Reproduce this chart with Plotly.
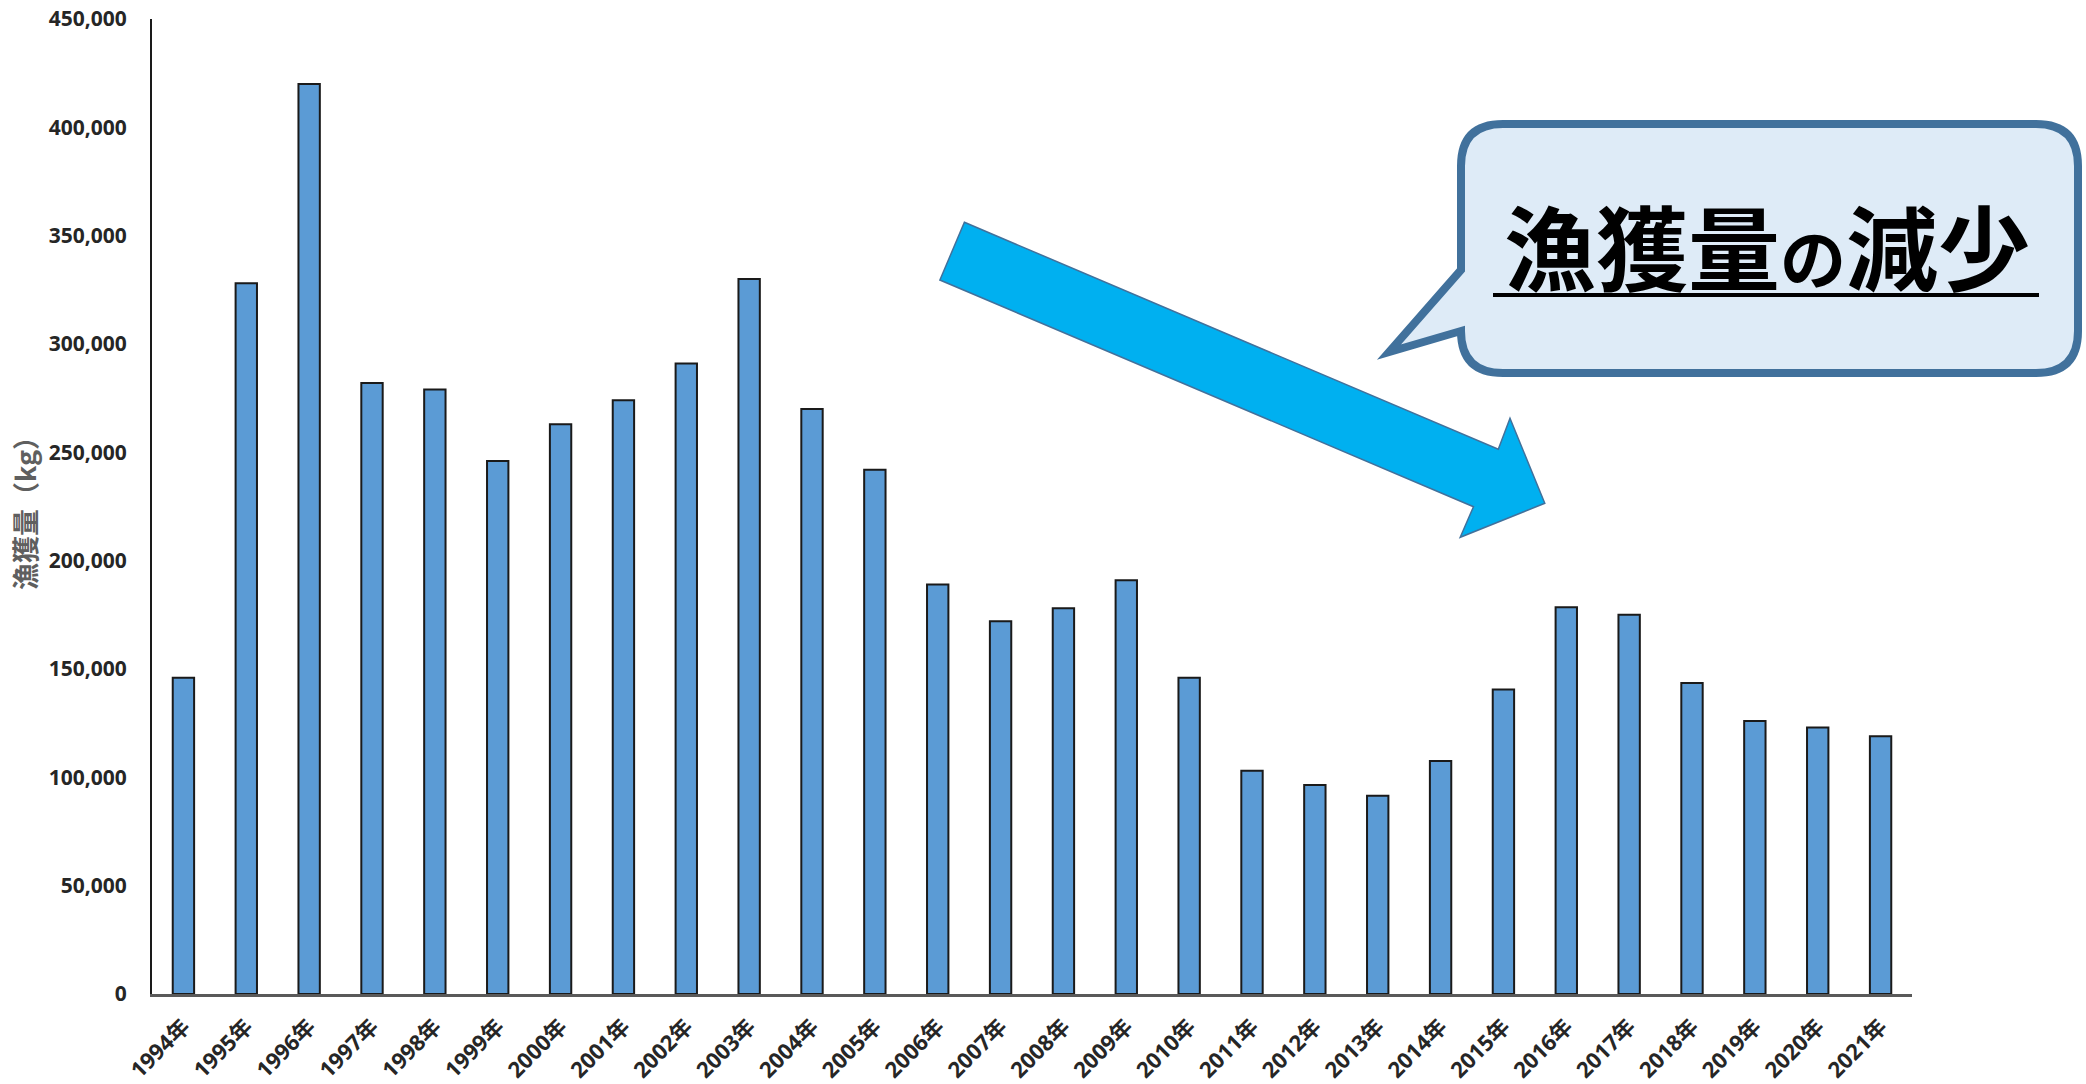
import plotly.graph_objects as go

# Annual catch (kg), 1994-2021
years = [f"{y}年" for y in range(1994, 2022)]
catch_kg = [
    146000, 328000, 420000, 282000, 279000, 246000, 263000, 274000,
    291000, 330000, 270000, 242000, 189000, 172000, 178000, 191000,
    146000, 103000, 96500, 91500, 107500, 140500, 178500, 175000,
    143500, 126000, 123000, 119000,
]
y_ticks = list(range(0, 450001, 50000))
y_tick_text = [f"{v:,}" for v in y_ticks]

callout_text = "漁獲量の減少"

# Page geometry (pixels) used to place the decorative shapes
W, H = 2086, 1084
L, R, T, B = 152, 174, 19, 90
PW, PH = W - L - R, H - T - B


def px(x):
    return (x - L) / PW


def py(y):
    return (H - B - y) / PH


def P(x, y):
    return f"{px(x):.5f},{py(y):.5f}"


# Downward block arrow
arrow_pts = [
    (964.4, 222.3), (1498.3, 449.3), (1510.0, 418.3), (1544.8, 503.3),
    (1460.2, 537.3), (1473.5, 506.7), (939.9, 280.0),
]
arrow_path = "M " + " L ".join(P(x, y) for x, y in arrow_pts) + " Z"

# Speech bubble (rounded rectangle with a tail pointing left)
bl, br, bt, bb, rr = 1461, 2078, 124, 373, 42
tail_top, tail_tip, tail_bot = 270, (1389, 352), 331

bubble_path = (
    f"M {P(bl + rr, bt)} L {P(br - rr, bt)} Q {P(br, bt)} {P(br, bt + rr)} "
    f"L {P(br, bb - rr)} Q {P(br, bb)} {P(br - rr, bb)} "
    f"L {P(bl + rr, bb)} Q {P(bl, bb)} {P(bl, bb - rr)} "
    f"L {P(bl, tail_bot)} L {P(*tail_tip)} L {P(bl, tail_top)} "
    f"L {P(bl, bt + rr)} Q {P(bl, bt)} {P(bl + rr, bt)} Z"
)

fig = go.Figure()
fig.add_trace(go.Bar(
    x=years,
    y=catch_kg,
    width=0.34,
    marker=dict(color="#5B9BD5", line=dict(color="#1a1a1a", width=2)),
    hoverinfo="x+y",
))

fig.update_layout(
    width=W, height=H,
    margin=dict(l=L, r=R, t=T, b=B, pad=0),
    paper_bgcolor="white",
    plot_bgcolor="white",
    showlegend=False,
    xaxis=dict(
        type="category",
        automargin=False,
        showline=True, linecolor="#595959", linewidth=3,
        showgrid=False, ticks="", tickangle=-45,
        ticklabelstandoff=8,
        tickfont=dict(family="Open Sans, Noto Sans CJK JP, sans-serif", size=22,
                      color="#262626", weight="bold"),
    ),
    yaxis=dict(
        range=[0, 450000],
        automargin=False,
        showline=True, linecolor="#1a1a1a", linewidth=2,
        showgrid=False, zeroline=False, ticks="",
        tickvals=y_ticks, ticktext=y_tick_text,
        tickfont=dict(family="Open Sans, Noto Sans CJK JP, sans-serif", size=21,
                      color="#262626", weight="bold"),
        ticklabelstandoff=19,
        title=dict(
            text="漁獲量（kg）",
            font=dict(family="Noto Sans CJK JP, sans-serif", size=27,
                      color="#5f5f5f", weight="bold"),
            standoff=4,
        ),
    ),
    shapes=[
        dict(type="path", path=arrow_path, xref="paper", yref="paper",
             fillcolor="#00B0F0", line=dict(color="#41719C", width=1.5), layer="above"),
        dict(type="path", path=bubble_path, xref="paper", yref="paper",
             fillcolor="#DEEBF7", line=dict(color="#41719C", width=8), layer="above"),
        dict(type="line", xref="paper", yref="paper",
             x0=px(1493), x1=px(2039), y0=py(295), y1=py(295),
             line=dict(color="black", width=4), layer="above"),
    ],
    annotations=[
        dict(
            text="漁獲量<span style='font-size:66px'>の</span>減少",
            xref="paper", yref="paper", x=px(1767), y=py(244),
            xanchor="center", yanchor="middle", showarrow=False,
            font=dict(family="Noto Sans CJK JP, sans-serif", size=92,
                      color="black", weight="bold"),
        ),
    ],
)

fig.write_html("out.html")
